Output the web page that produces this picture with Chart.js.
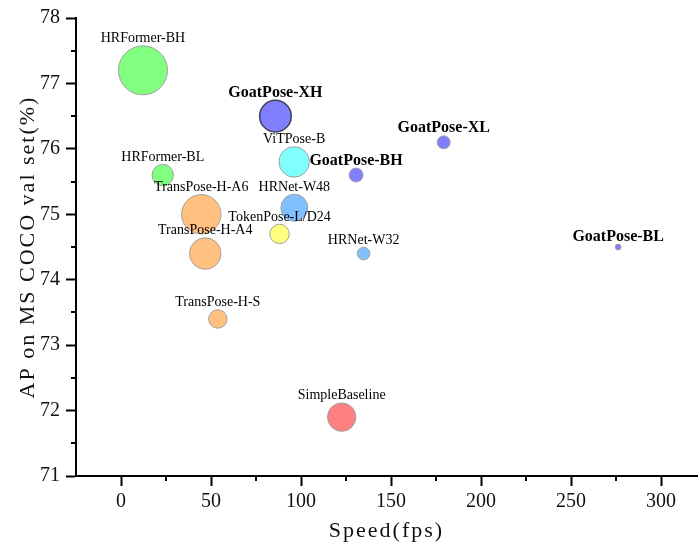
<!DOCTYPE html>
<html><head><meta charset="utf-8">
<script src="https://cdn.jsdelivr.net/npm/chart.js@4.4.1/dist/chart.umd.min.js"></script>
<style>html,body{margin:0;padding:0;background:#fff}#wrap{width:698px;height:548px}</style>
</head><body><div id="wrap"><canvas id="c" width="698" height="548"></canvas></div>
<script>
const models = ['HRFormer-BH','GoatPose-XH','ViTPose-B','HRFormer-BL','GoatPose-BH','GoatPose-XL','TransPose-H-A6','HRNet-W48','TokenPose-L/D24','TransPose-H-A4','HRNet-W32','GoatPose-BL','TransPose-H-S','SimpleBaseline'];
const speedFps = [12.2, 85.8, 96.2, 23.2, 130.6, 179.3, 44.6, 96.3, 88.1, 46.8, 134.8, 276.2, 53.8, 122.6];
const apValues = [77.2, 76.5, 75.8, 75.6, 75.6, 76.1, 75.0, 75.1, 74.7, 74.4, 74.4, 74.5, 73.4, 71.9];
const bubbleSizes = [24.5, 15.8, 15.2, 10.7, 7.0, 6.5, 19.7, 13.5, 9.7, 15.8, 6.3, 2.9, 9.2, 14.2];
const modelColors = ['#80ff80','#8080ff','#80ffff','#80ff80','#8080ff','#8080ff','#ffc080','#80c0ff','#ffff80','#ffc080','#80c0ff','#8080ff','#ffc080','#ff8080'];
const borderColors = ['#a0a0a0','#404058','#a0a0a0','#a0a0a0','#a0a0a0','#a0a0a0','#a0a0a0','#a0a0a0','#a0a0a0','#a0a0a0','#a0a0a0','#a0a0a0','#a0a0a0','#a0a0a0'];
const xTickValues = [0, 50, 100, 150, 200, 250, 300];
const yTickValues = [71, 72, 73, 74, 75, 76, 77, 78];
const xMinorTicks = [25, 75, 125, 175, 225, 275];
const yMinorTicks = [71.5, 72.5, 73.5, 74.5, 75.5, 76.5, 77.5];
const xTitle = 'Speed(fps)';
const yTitle = 'AP on MS COCO val set(%)';

const spacingPlugin = {
  id: 'spacing',
  beforeDraw(chart) { chart.ctx.letterSpacing = '2px'; },
  beforeDatasetsDraw(chart) { chart.ctx.letterSpacing = '0px'; }
};

const minorTickPlugin = {
  id: 'minorTicks',
  afterDraw(chart) {
    const ctx = chart.ctx, xs = chart.scales.x, ys = chart.scales.y, a = chart.chartArea;
    ctx.save();
    ctx.strokeStyle = '#000';
    ctx.lineWidth = 2;
    ctx.beginPath();
    xMinorTicks.forEach(v => { const p = Math.round(xs.getPixelForValue(v)); ctx.moveTo(p, a.bottom); ctx.lineTo(p, a.bottom + 5); });
    yMinorTicks.forEach(v => { const p = Math.round(ys.getPixelForValue(v)); ctx.moveTo(a.left, p); ctx.lineTo(a.left - 5, p); });
    ctx.stroke();
    ctx.restore();
  }
};

const labelPlugin = {
  id: 'bubbleLabels',
  afterDatasetsDraw(chart) {
    const ctx = chart.ctx;
    const meta = chart.getDatasetMeta(0);
    ctx.save();
    ctx.letterSpacing = '0px';
    ctx.fillStyle = '#000';
    ctx.textAlign = 'center';
    ctx.textBaseline = 'alphabetic';
    meta.data.forEach((el, i) => {
      const bold = models[i].startsWith('GoatPose');
      ctx.font = bold ? 'bold 16px "Liberation Serif"' : '14px "Liberation Serif"';
      const r = el.options.radius;
      ctx.fillText(models[i], el.x, el.y - r - 3.5);
    });
    ctx.restore();
  }
};

new Chart(document.getElementById('c'), {
  type: 'bubble',
  data: {
    datasets: [{
      data: models.map((m, i) => ({ x: speedFps[i], y: apValues[i], r: bubbleSizes[i] })),
      backgroundColor: modelColors,
      borderColor: borderColors,
      borderWidth: models.map(m => m === 'GoatPose-XH' ? 1.5 : 1)
    }]
  },
  options: {
    responsive: false,
    animation: false,
    devicePixelRatio: 1,
    layout: { autoPadding: false, padding: { top: 13, right: 1, left: 0, bottom: 0 } },
    plugins: { legend: { display: false }, tooltip: { enabled: false } },
    scales: {
      x: {
        type: 'linear', min: -25, max: 320,
        afterBuildTicks: s => { s.ticks = xTickValues.map(v => ({ value: v })); },
        afterFit: s => { s.height = 72; },
        grid: { display: true, drawOnChartArea: false, tickLength: 10, tickWidth: 2, tickColor: '#000', z: 0 },
        border: { display: true, color: '#000', width: 2 },
        ticks: { z: 1, color: '#111', padding: 4, maxRotation: 0, font: { family: 'Liberation Serif', size: 20 } },
        title: { display: true, text: xTitle, color: '#111', padding: { top: 0, bottom: 4 }, font: { family: 'Liberation Serif', size: 22 } }
      },
      y: {
        type: 'linear', min: 71, max: 78,
        afterBuildTicks: s => { s.ticks = yTickValues.map(v => ({ value: v })); },
        afterFit: s => { s.width = 76; },
        grid: { display: true, drawOnChartArea: false, tickLength: 10, tickWidth: 2, tickColor: '#000', z: 0 },
        border: { display: true, color: '#000', width: 2 },
        ticks: { z: 1, color: '#111', padding: 6, font: { family: 'Liberation Serif', size: 20 } },
        title: { display: true, text: yTitle, color: '#111', padding: { top: 15, bottom: 0 }, font: { family: 'Liberation Serif', size: 22 } }
      }
    }
  },
  plugins: [spacingPlugin, minorTickPlugin, labelPlugin]
});
</script></body></html>
